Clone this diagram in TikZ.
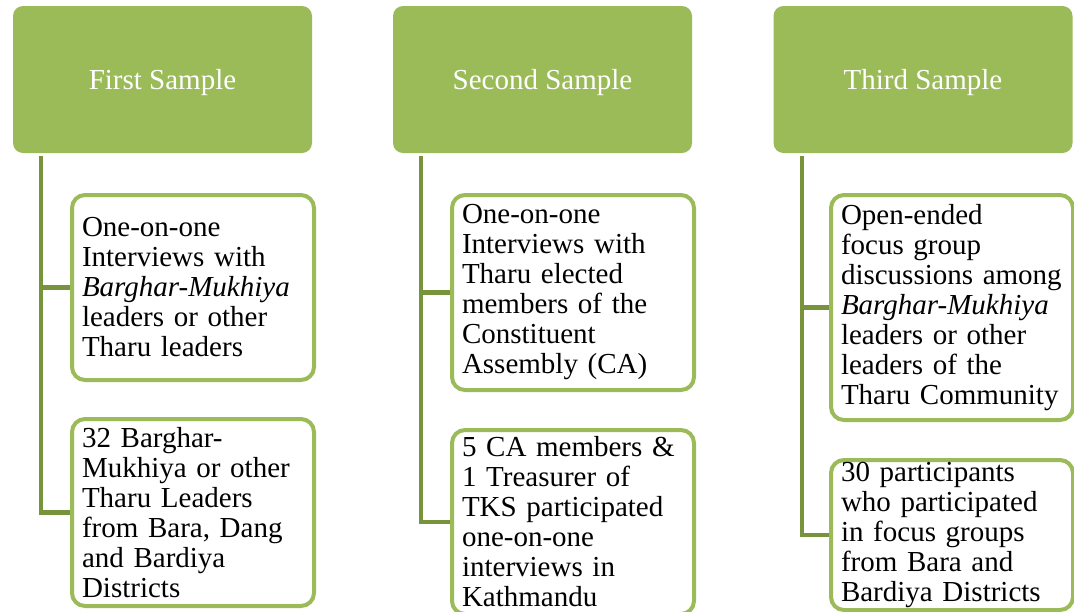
\documentclass[tikz,border=0pt]{standalone}
\usepackage{fontspec}
\setmainfont{Liberation Serif}
\usetikzlibrary{backgrounds}
\definecolor{hdr}{HTML}{9BBB59}
\definecolor{conn}{HTML}{77933C}
\begin{document}
\begin{tikzpicture}[x=1pt,y=-1pt,
 header/.style={fill=hdr, rounded corners=10pt, minimum width=299pt, minimum height=147pt, text=white, font=\fontsize{29}{30}\selectfont, inner sep=0pt, text height=20pt, text depth=0pt},
 child/.style={draw=hdr, line width=4pt, fill=white, rounded corners=13pt, minimum width=242pt, inner xsep=10pt, inner ysep=0pt, text width=222pt, align=left, font=\fontsize{29}{30}\selectfont},
 link/.style={draw=conn, line width=4.5pt}]
\useasboundingbox (0,0) rectangle (1074,611);
\node[header] (h1) at (162.5,79.5) {First Sample};
\node[header] (h2) at (542.5,79.5) {Second Sample};
\node[header] (h3) at (923,79.5) {Third Sample};
\coordinate (v1) at (41,156);
\coordinate (v2) at (421,156);
\coordinate (v3) at (802,156);
\path (193,287.5) coordinate (p1a) (193,512.5) coordinate (p1b)
      (573,292.5) coordinate (p2a) (573,522) coordinate (p2b)
      (952,307.5) coordinate (p3a) (952,535) coordinate (p3b);
\node[child, minimum height=185pt] (c1a) at (p1a) {One-on-one\\Interviews with\\\textit{Barghar-Mukhiya}\\leaders or other\\Tharu leaders};
\node[child, minimum height=187pt] (c1b) at (p1b) {32 Barghar-\\Mukhiya or other\\Tharu Leaders\\from Bara, Dang\\and Bardiya\\Districts};
\node[child, minimum height=195pt] (c2a) at (p2a) {One-on-one\\Interviews with\\Tharu elected\\members of the\\Constituent\\Assembly (CA)};
\node[child, minimum height=184pt] (c2b) at (p2b) {5 CA members \&\\1 Treasurer of\\TKS participated\\one-on-one\\interviews in\\Kathmandu};
\node[child, minimum height=225pt] (c3a) at (p3a) {Open-ended\\focus group\\discussions among\\\textit{Barghar-Mukhiya}\\leaders or other\\leaders of the\\Tharu Community};
\node[child, minimum height=150pt] (c3b) at (p3b) {30 participants\\who participated\\in focus groups\\from Bara and\\Bardiya Districts};
\begin{scope}[on background layer]
\draw[link] (v1) |- (c1b.west);
\draw[link] (v1 |- c1a.west) -- (c1a.west);
\draw[link] (v2) |- (c2b.west);
\draw[link] (v2 |- c2a.west) -- (c2a.west);
\draw[link] (v3) |- (c3b.west);
\draw[link] (v3 |- c3a.west) -- (c3a.west);
\end{scope}
\end{tikzpicture}
\end{document}
